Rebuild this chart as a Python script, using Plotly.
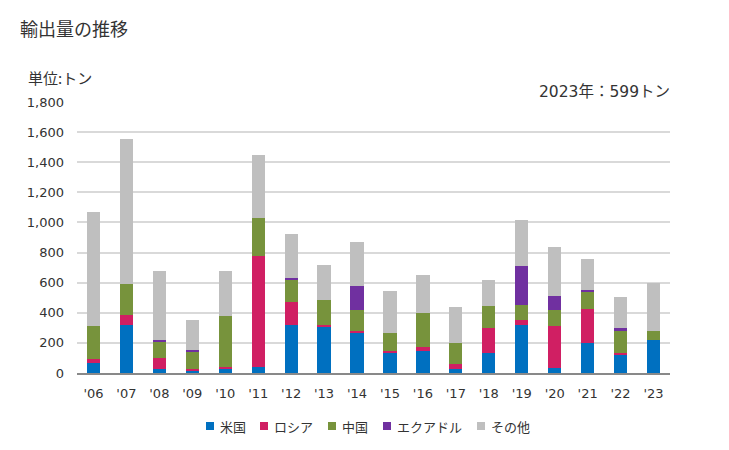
import plotly.graph_objects as go

years = ["'06", "'07", "'08", "'09", "'10", "'11", "'12", "'13", "'14", "'15",
         "'16", "'17", "'18", "'19", "'20", "'21", "'22", "'23"]
us      = [64, 318, 29, 16, 29, 38, 322, 304, 269, 136, 149, 29, 133, 316, 36, 200, 122, 222]
russia  = [32, 64, 73, 8, 13, 738, 147, 14, 13, 8, 27, 33, 169, 33, 273, 222, 14, 0]
china   = [213, 207, 107, 120, 334, 253, 153, 164, 134, 125, 220, 140, 140, 100, 107, 120, 146, 54]
ecuador = [0, 0, 7, 7, 0, 0, 7, 0, 160, 0, 0, 0, 0, 260, 93, 7, 14, 0]
other   = [760, 967, 460, 198, 300, 420, 293, 234, 293, 273, 253, 234, 174, 307, 327, 207, 206, 323]

series = [
    ("米国", us, "#0070C0"),
    ("ロシア", russia, "#D01F63"),
    ("中国", china, "#77933C"),
    ("エクアドル", ecuador, "#7030A0"),
    ("その他", other, "#BFBFBF"),
]

# The page body has an 8px default margin; work in page coordinates and shift.
O = 8
W, H = 729 - O, 450 - O
PL, PR, PT, PB = 77, 670, 102, 373          # plot area in page pixels
ML, MR, MT, MB = PL - O, W - (PR - O), PT - O, H - (PB - O)
PW = W - ML - MR

latin = "DejaVu Sans, Noto Sans CJK JP, sans-serif"
cjk = "Noto Sans CJK JP, DejaVu Sans, sans-serif"
txt = "#333333"

fig = go.Figure()
for name, vals, color in series:
    fig.add_trace(go.Bar(x=years, y=vals, name=name, marker_color=color,
                         marker_line_width=0, showlegend=False))

def px(p):
    return (p - PL) / PW

annotations = [
    dict(text="輸出量の推移", xref="paper", yref="paper", x=0, y=1,
         xanchor="left", yanchor="middle", showarrow=False,
         font=dict(family=cjk, size=18, color=txt), xshift=18 - PL, yshift=PT - 28),
    dict(text="単位:トン", xref="paper", yref="paper", x=0, y=1,
         xanchor="left", yanchor="middle", showarrow=False,
         font=dict(family=cjk, size=15, color=txt), xshift=26 - PL, yshift=PT - 77),
    dict(text="2023年：599トン", xref="paper", yref="paper", x=1, y=1,
         xanchor="right", yanchor="middle", showarrow=False,
         font=dict(family=latin, size=15.5, color=txt), xshift=672 - PR, yshift=PT - 92),
]
shapes = []
legend_marker_x = [206, 260, 328, 383, 477]
LY = 426
for (name, vals, color), mx in zip(series, legend_marker_x):
    shapes.append(dict(type="rect", xref="paper", yref="paper",
                       xsizemode="pixel", ysizemode="pixel",
                       xanchor=px(mx), yanchor=0,
                       x0=0, x1=8, y0=-(LY - PB) - 4, y1=-(LY - PB) + 4,
                       fillcolor=color, line_width=0))
    annotations.append(dict(text=name, xref="paper", yref="paper", x=px(mx + 12), y=0,
                            xanchor="left", yanchor="middle", showarrow=False,
                            font=dict(family=cjk, size=13, color=txt),
                            yshift=-(LY - PB)))

fig.update_layout(
    barmode="stack",
    bargap=0.6,
    width=W, height=H,
    margin=dict(l=ML, r=MR, t=MT, b=MB, autoexpand=False),
    plot_bgcolor="white", paper_bgcolor="white",
    font=dict(family=latin, size=13, color=txt),
    showlegend=False,
    xaxis=dict(showline=True, linecolor="#898989", linewidth=1.5, ticks="",
               ticklabelstandoff=8, tickfont=dict(family=latin, size=13)),
    yaxis=dict(range=[0, 1800], dtick=200, tickformat=",", showgrid=True,
               gridcolor="#D9D9D9", gridwidth=1.5, zeroline=False,
               ticks="", ticklabelstandoff=12, tickfont=dict(family=latin, size=13)),
    annotations=annotations,
    shapes=shapes,
)

fig.write_html("out.html")
